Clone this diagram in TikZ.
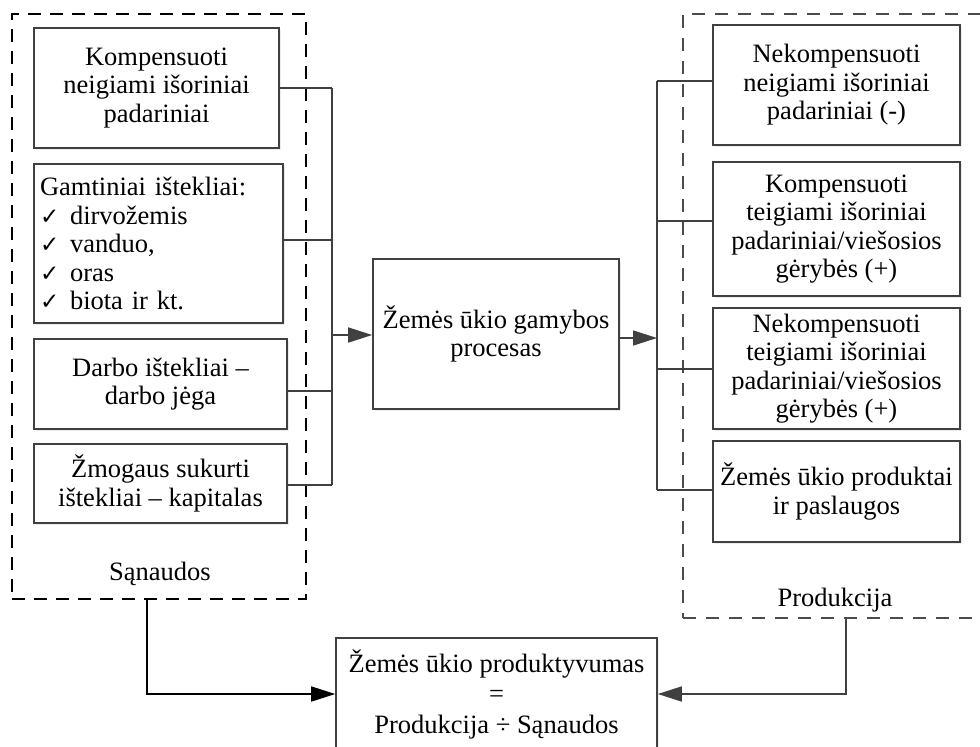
\documentclass[tikz,border=0pt]{standalone}
\usepackage{fontspec}
\setmainfont{Liberation Serif}
\newfontfamily\symfont{DejaVu Sans}
\usetikzlibrary{arrows.meta, shadows}
\newcommand{\chk}{\makebox[30pt][l]{{\symfont\fontsize{23}{23}\selectfont ✓}}}

\begin{document}
\begin{tikzpicture}[
  x=1pt, y=-1pt,
  every node/.style={font=\fontsize{26.5}{28.5}\selectfont},
  box/.style={rectangle, draw=black!75, line width=1.6pt, fill=white, align=center, inner sep=4pt,
    drop shadow={shadow xshift=2pt, shadow yshift=-2pt, opacity=0.15}},
  frameL/.style={rectangle, draw=black, line width=1.6pt, dash pattern=on 13pt off 9pt},
  frameR/.style={rectangle, draw=black!70, line width=1.4pt, dash pattern=on 13pt off 10pt},
  wire/.style={draw=black!75, line width=1.6pt},
  feed/.style={wire, -{Triangle[length=24pt, width=15pt]}}
]
\useasboundingbox (0,0) rectangle (980,747);
\clip (0,0) rectangle (980,747);

% Groups
\node[frameL, minimum width=294pt, minimum height=585pt] (inputs) at (159,306.5) {};
\node[frameR, minimum width=307pt, minimum height=604pt] (outputs) at (836.5,316) {};
\node (inlabel)  at (160,574) {Sąnaudos};
\node (outlabel) at (835,600) {Produkcija};

% Input nodes
\node[box, minimum width=245pt, minimum height=120pt] (comp) at (156.5,88)
  {Kompensuoti\\neigiami išoriniai\\padariniai};
\node[box, minimum width=249pt, minimum height=159pt, align=left, text width=237pt, inner sep=6pt] (nature) at (158.5,243.5)
  {Gamtiniai ištekliai:\\\chk dirvožemis\\\chk vanduo,\\\chk oras\\\chk biota ir kt.};
\node[box, minimum width=253pt, minimum height=90pt] (labour) at (160.5,384)
  {Darbo ištekliai –\\darbo jėga};
\node[box, minimum width=253pt, minimum height=79pt] (capital) at (160.5,483.5)
  {Žmogaus sukurti\\ištekliai – kapitalas};

% Process
\node[box, minimum width=246pt, minimum height=150pt] (process) at (496,334)
  {Žemės ūkio gamybos\\procesas};

% Output nodes
\node[box, minimum width=247pt, minimum height=120pt] (negext) at (836.5,85)
  {Nekompensuoti\\neigiami išoriniai\\padariniai (-)};
\node[box, minimum width=247pt, minimum height=134pt] (posext) at (836.5,229)
  {Kompensuoti\\teigiami išoriniai\\padariniai/viešosios\\gėrybės (+)};
\node[box, minimum width=247pt, minimum height=121pt] (posfree) at (836.5,368.5)
  {Nekompensuoti\\teigiami išoriniai\\padariniai/viešosios\\gėrybės (+)};
\node[box, minimum width=247pt, minimum height=101pt] (goods) at (836.5,491.5)
  {Žemės ūkio produktai\\ir paslaugos};

% Result
\node[box, minimum width=321pt, minimum height=112pt] (result) at (496.5,694)
  {Žemės ūkio produktyvumas\\[2pt]=\\[2pt]Produkcija ÷ Sąnaudos};

% Buses
\coordinate (lbus) at (332,0);
\coordinate (rbus) at (657,0);

% Edges into the process
\draw[wire] (comp.east) -- (comp.east -| lbus);
\draw[wire] ([yshift=3.5pt]nature.east) -- ([yshift=3.5pt]nature.east -| lbus);
\draw[wire] ([yshift=-7pt]labour.east) -- ([yshift=-7pt]labour.east -| lbus);
\draw[wire] ([yshift=-1.5pt]capital.east) -- ([yshift=-1.5pt]capital.east -| lbus);
\draw[wire] (comp.east -| lbus) -- ([yshift=-1.5pt]capital.east -| lbus);
\draw[feed] ([yshift=-1pt]process.west -| lbus) -- ([yshift=-1pt]process.west);

% Edges out of the process
\draw[feed] ([yshift=-4pt]process.east) -- ([yshift=-4pt]process.east -| rbus);
\draw[wire] ([yshift=4pt]negext.west -| rbus) -- ([yshift=1.5pt]goods.west -| rbus);
\draw[wire] ([yshift=4pt]negext.west -| rbus) -- ([yshift=4pt]negext.west);
\draw[wire] ([yshift=8pt]posext.west -| rbus) -- ([yshift=8pt]posext.west);
\draw[wire] ([yshift=-0.5pt]posfree.west -| rbus) -- ([yshift=-0.5pt]posfree.west);
\draw[wire] ([yshift=1.5pt]goods.west -| rbus) -- ([yshift=1.5pt]goods.west);

% Edges to the result
\draw[feed, draw=black] ([xshift=-12pt]inputs.south) |- (result.west);
\draw[feed] ([xshift=9.5pt]outputs.south) |- (result.east);

\end{tikzpicture}
\end{document}
